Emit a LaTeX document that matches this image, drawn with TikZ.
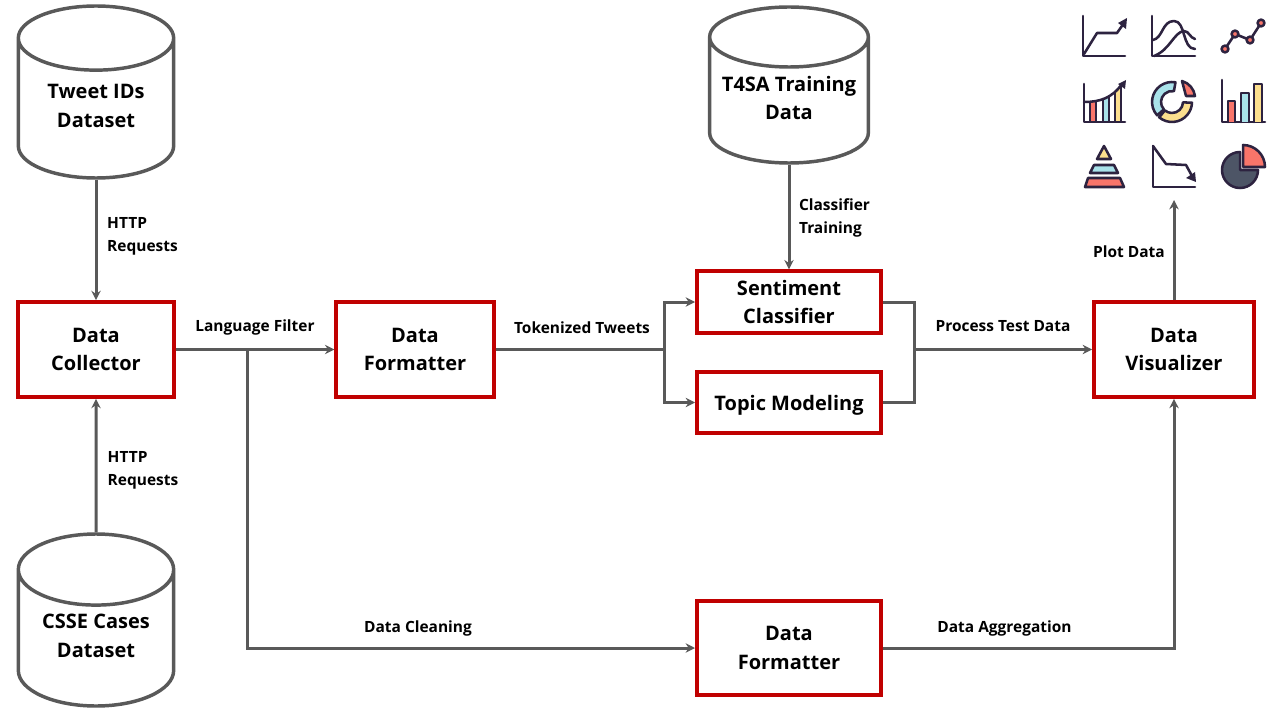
\documentclass[tikz,border=0pt]{standalone}
\usepackage{fontspec}
\setmainfont{Open Sans}
\usetikzlibrary{calc,arrows.meta,shapes.geometric}
\definecolor{boxred}{HTML}{C00000}
\definecolor{linegray}{HTML}{595959}
\definecolor{icondark}{HTML}{2D2340}
\definecolor{iconred}{HTML}{F8756A}
\definecolor{iconblue}{HTML}{A9E2EA}
\definecolor{iconyellow}{HTML}{FCDF8E}
\definecolor{iconslate}{HTML}{4D5566}
\tikzset{
	block/.style={rectangle,draw=boxred,line width=3pt,align=center,font=\fontsize{15}{21.6}\selectfont\bfseries,inner sep=0pt},
	store/.style={cylinder,shape border rotate=90,aspect=0.66,anchor=shape center,draw=linegray,line width=2.6pt,align=center,minimum width=116.5pt,font=\fontsize{15}{21.6}\selectfont\bfseries,inner sep=0pt},
	tag/.style={align=left,font=\fontsize{11.6}{17.4}\selectfont\bfseries,inner sep=0pt},
	link/.style={draw=linegray,line width=2.25pt},
	directed/.style={link,arrows={-Stealth[length=7pt,width=7pt]}},
	iconline/.style={draw=icondark,line width=1.9pt,line join=round,line cap=round}
	}

\begin{document}
\begin{tikzpicture}[x=0.75pt,y=-0.75pt]
		\path[use as bounding box,fill=white] (0,0) rectangle (1280,720);

		\node[store,text depth=4.5pt,minimum height=129pt] (tweets) at (96,92) {Tweet IDs\\Dataset};
		\node[store,text depth=4.5pt,minimum height=129pt] (csse) at (96,620) {CSSE Cases\\Dataset};
		\node[store,text depth=4.5pt,aspect=0.6,minimum width=119pt,minimum height=117pt] (t4sa) at (789,85) {\makebox[75pt]{T4SA Training}\\\makebox[75pt]{Data}};

		\node[block,minimum width=117pt,minimum height=71pt] (collector) at (96,349.5) {Data\\Collector};
		\node[block,minimum width=118pt,minimum height=71pt] (formatter) at (415,349.5) {Data\\Formatter};
		\node[block,minimum width=138pt,minimum height=46pt] (sentiment) at (789,302) {Sentiment\\Classifier};
		\node[block,text height=15.5pt,minimum width=138pt,minimum height=46pt] (topic) at (789,402.5) {Topic Modeling};
		\node[block,minimum width=120pt,minimum height=71pt] (visualizer) at (1174,349.5) {Data\\Visualizer};
		\node[block,minimum width=138pt,minimum height=71pt] (cleaner) at (789,648) {Data\\Formatter};

		\coordinate (split) at (664,349.5);
		\coordinate (merge) at (914,349.5);
		\coordinate (branch) at (247,349.5);
		\coordinate (charts) at (1174,200);

		\draw[directed] (tweets.south) -- (collector);
		\draw[directed] (csse.north) -- (collector);
		\draw[directed] (t4sa.south) -- (sentiment);
		\draw[directed] (collector) -- (formatter);
		\draw[link] (formatter) -- (split);
		\draw[directed] (split) |- (sentiment);
		\draw[directed] (split) |- (topic);
		\draw[link] (sentiment) -| (merge);
		\draw[link] (topic) -| (merge);
		\draw[directed] (merge) -- (visualizer);
		\draw[directed] (branch) |- (cleaner);
		\draw[directed] (cleaner) -| (visualizer);
		\draw[directed] (visualizer) -- (charts);

		\node[tag] (httpa) at (142.5,236.5) {HTTP\\Requests};
		\node[tag] (httpb) at (143,470.5) {HTTP\\Requests};
		\node[tag] (training) at (834.5,218) {Classifier\\Training};
		\node[tag] (language) at (255,327) {Language Filter};
		\node[tag] (tokenized) at (582,328) {Tokenized Tweets};
		\node[tag] (process) at (1003,326) {Process Test Data};
		\node[tag] (plot) at (1129,251.5) {Plot Data};
		\node[tag] (cleaning) at (418,628) {Data Cleaning};
		\node[tag] (aggregation) at (1004.5,628) {Data Aggregation};

		\draw[iconline] (1083,16) -- (1083,56) -- (1125,56);
		\draw[iconline] (1084,54) -- (1097,33) -- (1117,33) -- (1124,23);
		\fill[icondark] (1127,18) -- (1126,29) -- (1118,23) -- cycle;

		\draw[iconline] (1152,16) -- (1152,56) -- (1195,56);
		\draw[iconline] (1153,40) .. controls (1163,38) and (1162,21) .. (1174,21) .. controls (1186,21) and (1182,49) .. (1195,49);
		\draw[iconline] (1154,56) .. controls (1170,50) and (1174,32) .. (1184,31) .. controls (1189,31) and (1190,38) .. (1195,39);

		\draw[iconline] (1225,49) -- (1235,34) -- (1250,40) -- (1261,23);
		\foreach \px/\py in {1225/49,1235/34,1250/40,1261/23}
			\draw[iconline,fill=iconred] (\px,\py) circle[radius=3.4];

		\begin{scope}
			\clip (1084,102) .. controls (1100,102) and (1112,98) .. (1122,84) -- (1122,122) -- (1084,122) -- cycle;
			\foreach \bx/\bc in {1090/iconred,1103/iconblue,1115/iconyellow}
				\draw[iconline,line width=1.4pt,fill=\bc] (\bx,80) rectangle (\bx+6,122);
		\end{scope}
		\draw[iconline] (1084,84) -- (1084,122) -- (1125,122);
		\draw[iconline] (1084,102) .. controls (1100,102) and (1112,98) .. (1122,84);
		\fill[icondark] (1126,80) -- (1125,89) -- (1118,84) -- cycle;

		\coordinate (donut) at (1172,102);
		\draw[iconline,fill=iconblue] (donut) ++(-80:20) arc[start angle=-80,end angle=-222,radius=20] -- ($(donut)+(-222:11)$) arc[start angle=-222,end angle=-80,radius=11] -- cycle;
		\draw[iconline,fill=iconyellow] (donut) ++(-230:20) arc[start angle=-230,end angle=-358,radius=20] -- ($(donut)+(-358:11)$) arc[start angle=-358,end angle=-230,radius=11] -- cycle;
		\draw[iconline,fill=iconred] (1182,81) .. controls (1189,83) and (1194,89) .. (1195,96) -- (1186,96) -- cycle;

		\draw[iconline] (1222,80) -- (1222,122) -- (1265,122);
		\draw[iconline,fill=iconred] (1228,122) -- (1228,101) -- (1235,101) -- (1235,122);
		\draw[iconline,fill=iconblue] (1241,122) -- (1241,93) -- (1249,93) -- (1249,122);
		\draw[iconline,fill=iconyellow] (1254,122) -- (1254,84) -- (1262,84) -- (1262,122);

		\draw[iconline,fill=iconyellow] (1104,146) -- (1111,159) -- (1097,159) -- cycle;
		\draw[iconline,fill=iconblue] (1094,165) -- (1114,165) -- (1118,173) -- (1090,173) -- cycle;
		\draw[iconline,fill=iconred] (1088,178) -- (1120,178) -- (1124,187) -- (1085,187) -- cycle;

		\draw[iconline] (1153,146) -- (1153,187) -- (1195,187);
		\draw[iconline] (1153,146) -- (1166,164) -- (1186,165) -- (1192,176);
		\fill[icondark] (1196,182) -- (1186,178) -- (1195,172) -- cycle;

		\coordinate (pie) at (1240,170);
		\draw[iconline,fill=iconslate] (pie) ++(-90:18) arc[start angle=-90,end angle=-360,radius=18] -- (pie) -- cycle;
		\draw[iconline,fill=iconred] (1243,167) ++(-90:22) arc[start angle=-90,end angle=0,radius=22] -- (1243,167) -- cycle;
\end{tikzpicture}
\end{document}
